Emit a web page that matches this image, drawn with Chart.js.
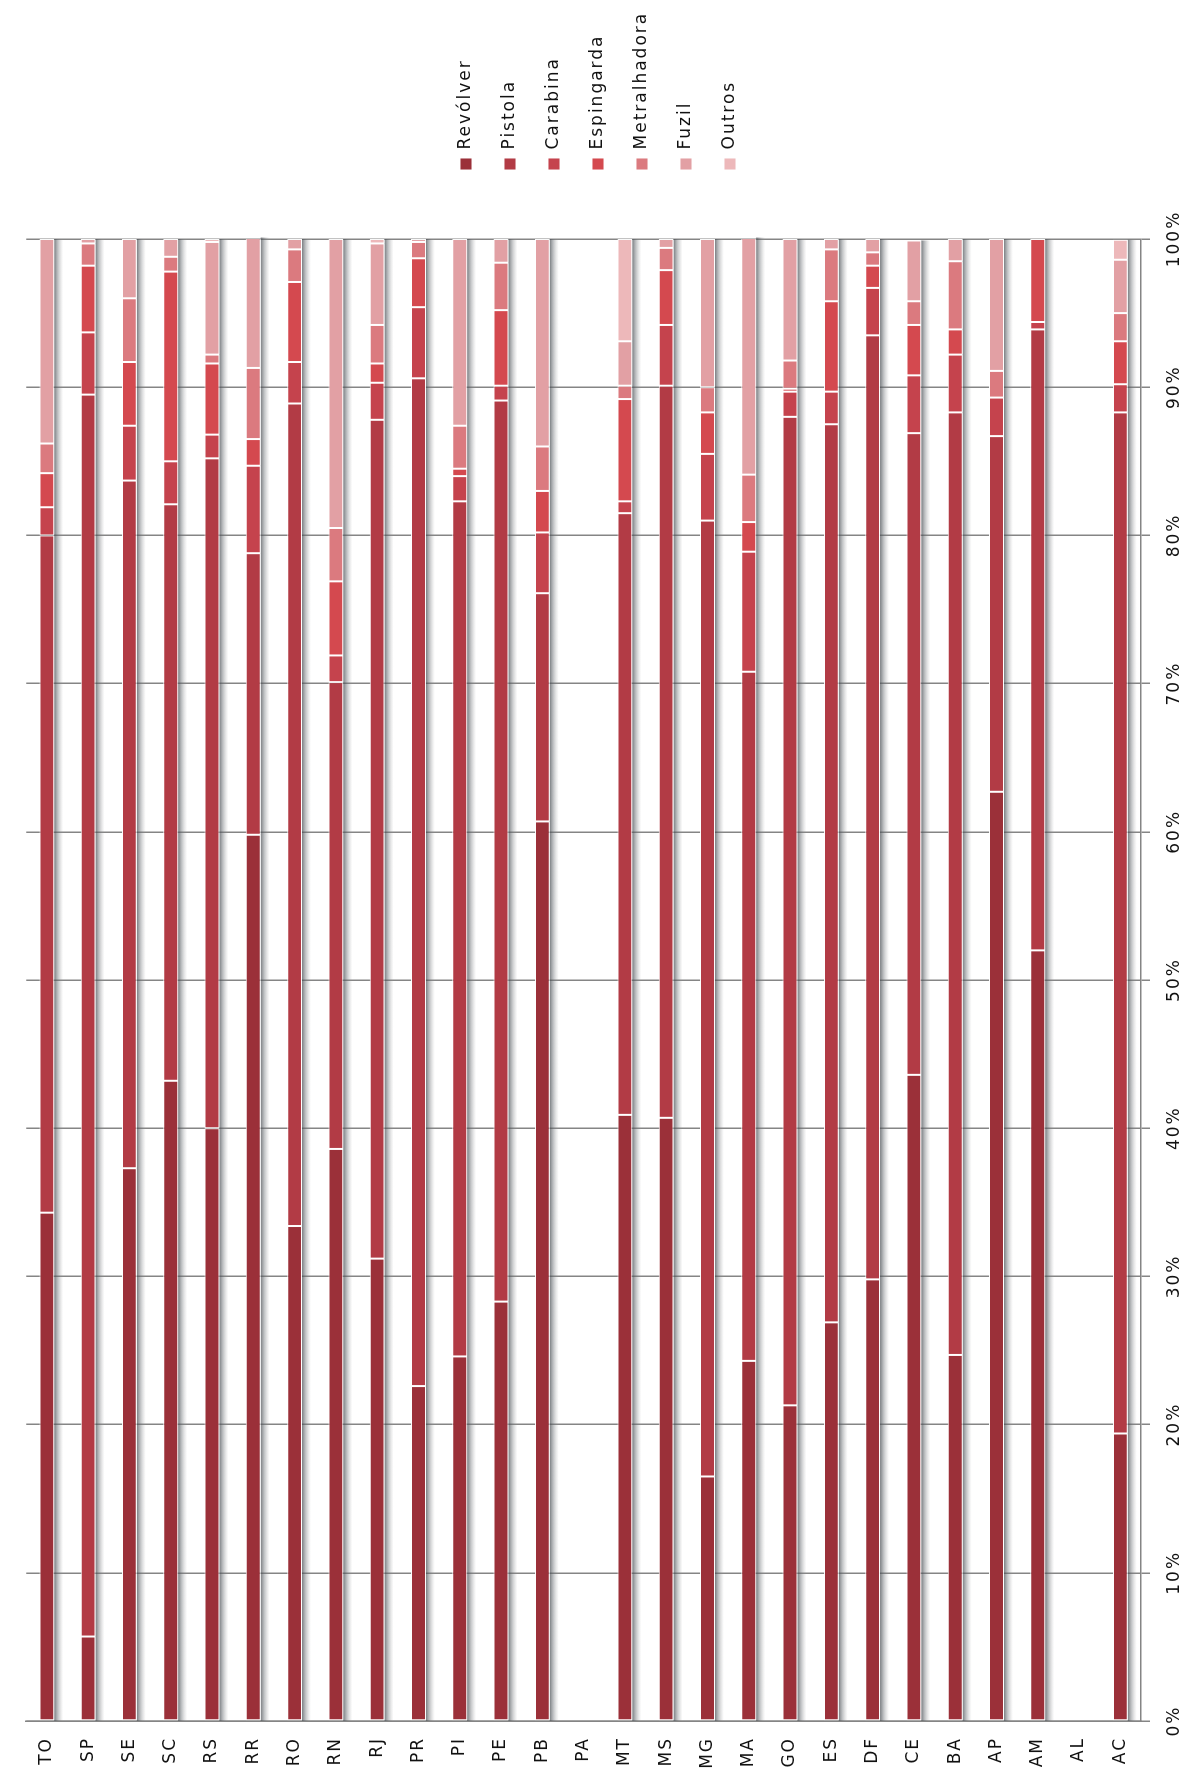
<!DOCTYPE html>
<html>
<head>
<meta charset="utf-8">
<style>
html,body{margin:0;padding:0;background:#fff;overflow:hidden;width:1192px;height:1780px;}
#rot{position:absolute;left:0;top:0;width:1780px;height:1192px;transform-origin:0 0;transform:translate(0,1780px) rotate(-90deg);}
</style>
<script src="https://cdn.jsdelivr.net/npm/chart.js@4"></script>
</head>
<body>
<div id="rot"><canvas id="c" width="1780" height="1192"></canvas></div>
<script>
// Categories (states)
const categories = ['TO','SP','SE','SC','RS','RR','RO','RN','RJ','PR','PI','PE','PB','PA','MT','MS','MG','MA','GO','ES','DF','CE','BA','AP','AM','AL','AC'];

// Series values (% of total, per state)
const revolver     = [34.3, 5.7, 37.3, 43.2, 40.0, 59.8, 33.4, 38.6, 31.2, 22.6, 24.6, 28.3, 60.7, null, 40.9, 40.7, 16.5, 24.3, 21.3, 26.9, 29.8, 43.6, 24.7, 62.7, 52.0, null, 19.4];
const pistola      = [45.7, 83.8, 46.4, 38.9, 45.2, 19.0, 55.5, 31.5, 56.6, 68.0, 57.7, 60.8, 15.4, null, 40.6, 49.4, 64.5, 46.5, 66.7, 60.6, 63.7, 43.3, 63.6, 24.0, 41.9, null, 68.9];
const carabina     = [1.9, 4.2, 3.7, 2.9, 1.6, 5.9, 2.8, 1.8, 2.5, 4.8, 1.7, 1.0, 4.1, null, 0.8, 4.1, 4.5, 8.1, 1.7, 2.2, 3.2, 3.9, 3.9, 2.6, 0.5, null, 1.9];
const espingarda   = [2.3, 4.5, 4.3, 12.8, 4.8, 1.8, 5.4, 5.0, 1.3, 3.3, 0.5, 5.1, 2.8, null, 6.9, 3.7, 2.8, 2.0, 0.2, 6.1, 1.5, 3.4, 1.7, 0, 5.6, null, 2.9];
const metralhadora = [2.0, 1.5, 4.3, 1.0, 0.6, 4.8, 2.2, 3.6, 2.6, 1.1, 2.9, 3.2, 3.0, null, 0.9, 1.5, 1.7, 3.2, 1.9, 3.5, 0.9, 1.6, 4.6, 1.8, 0, null, 1.9];
const fuzil        = [13.8, 0.3, 4.0, 1.2, 7.6, 8.8, 0.7, 19.5, 5.5, 0.2, 12.6, 1.6, 14.0, null, 3.0, 0.6, 10.0, 16.0, 8.2, 0.7, 0.9, 4.1, 1.5, 8.9, 0, null, 3.6];
const outros       = [0, 0, 0, 0, 0.2, 0, 0, 0, 0.3, 0, 0, 0, 0, null, 6.9, 0, 0, 0, 0, 0, 0, 0, 0, 0, 0, null, 1.35];

const seriesNames = ['Revólver','Pistola','Carabina','Espingarda','Metralhadora','Fuzil','Outros'];
const seriesData = [revolver, pistola, carabina, espingarda, metralhadora, fuzil, outros];
const seriesColors = ['#9B3039','#B23B45','#C5434D','#D4494F','#DB7A7F','#E2A0A4','#EDB8BA'];

// Value axis ticks
const valueTicks = [0,10,20,30,40,50,60,70,80,90,100];

const FONT = {family: '"DejaVu Sans", Verdana, sans-serif', size: 17};
Chart.defaults.color = '#111';
Chart.defaults.font.family = FONT.family;

const tweaks = {
  id: 'tweaks',
  beforeUpdate(chart){ chart.ctx.letterSpacing = '2px'; },
  beforeLayout(chart){
    chart.ctx.letterSpacing = '2px';
    const lg = chart.legend;
    if (lg && !lg._wrapped){
      const f = lg.fit.bind(lg);
      lg.fit = function(){ f(); this.width = 239; };
      lg._wrapped = true;
    }
  },
  afterLayout(chart){
    const lg = chart.legend;
    if (lg){ lg.left += 42; lg.right += 42; lg.top -= 7; lg.bottom -= 7; }
  },
  beforeDraw(chart){ chart.ctx.letterSpacing = '2px'; },
  beforeDatasetsDraw(chart){
    const ctx = chart.ctx;
    const xs = chart.scales.x;
    ctx.save();
    categories.forEach((c, i) => {
      let el = null, total = 0;
      chart.data.datasets.forEach((ds, d) => {
        const v = ds.data[i];
        if (v != null) { total += v; }
        const m = chart.getDatasetMeta(d).data[i];
        if (m && v != null && !el) el = m;
      });
      if (!el || total <= 0) return;
      const v1 = el.y + el.height / 2;
      const u0 = xs.getPixelForValue(0);
      const u1 = xs.getPixelForValue(total);
      const g = ctx.createLinearGradient(0, v1, 0, v1 + 9);
      g.addColorStop(0, 'rgba(70,75,80,0.72)');
      g.addColorStop(0.4, 'rgba(105,110,115,0.42)');
      g.addColorStop(1, 'rgba(160,160,160,0)');
      ctx.fillStyle = g;
      ctx.fillRect(u0, v1, u1 - u0, 9);
    });
    ctx.restore();
  }
};

const datasets = seriesNames.map((n, k) => ({
  label: n,
  data: seriesData[k],
  backgroundColor: seriesColors[k],
  borderColor: 'rgba(255,255,255,0.95)',
  borderWidth: 1,
  borderSkipped: false,
  barPercentage: 0.36,
  categoryPercentage: 1.0
}));

new Chart(document.getElementById('c').getContext('2d'), {
  type: 'bar',
  data: { labels: categories, datasets },
  plugins: [tweaks],
  options: {
    indexAxis: 'y',
    responsive: false,
    animation: false,
    layout: { padding: { top: 18, left: 0, right: 0, bottom: 0 } },
    plugins: {
      tooltip: { enabled: false },
      legend: {
        position: 'right',
        align: 'center',
        labels: {
          font: FONT,
          color: '#111',
          boxWidth: 12,
          boxHeight: 12,
          padding: 27
        }
      }
    },
    scales: {
      x: {
        stacked: true,
        min: 0,
        max: 100,
        position: 'bottom',
        afterFit(s){ s.height = 51; },
        afterBuildTicks(s){ s.ticks = valueTicks.map(v => ({value: v})); },
        grid: { color: '#858585', lineWidth: 1.5, tickLength: 9, drawTicks: true },
        border: { display: true, color: '#858585', width: 1.5 },
        ticks: { font: FONT, color: '#111', padding: 14, maxRotation: 0, minRotation: 0, callback: v => v + '%' }
      },
      y: {
        stacked: true,
        position: 'left',
        afterFit(s){ s.width = 59; },
        grid: { display: false, drawTicks: false },
        border: { display: true, color: '#858585', width: 1.5 },
        ticks: { font: FONT, color: '#111', padding: 16 }
      }
    }
  }
});
</script>
</body>
</html>
